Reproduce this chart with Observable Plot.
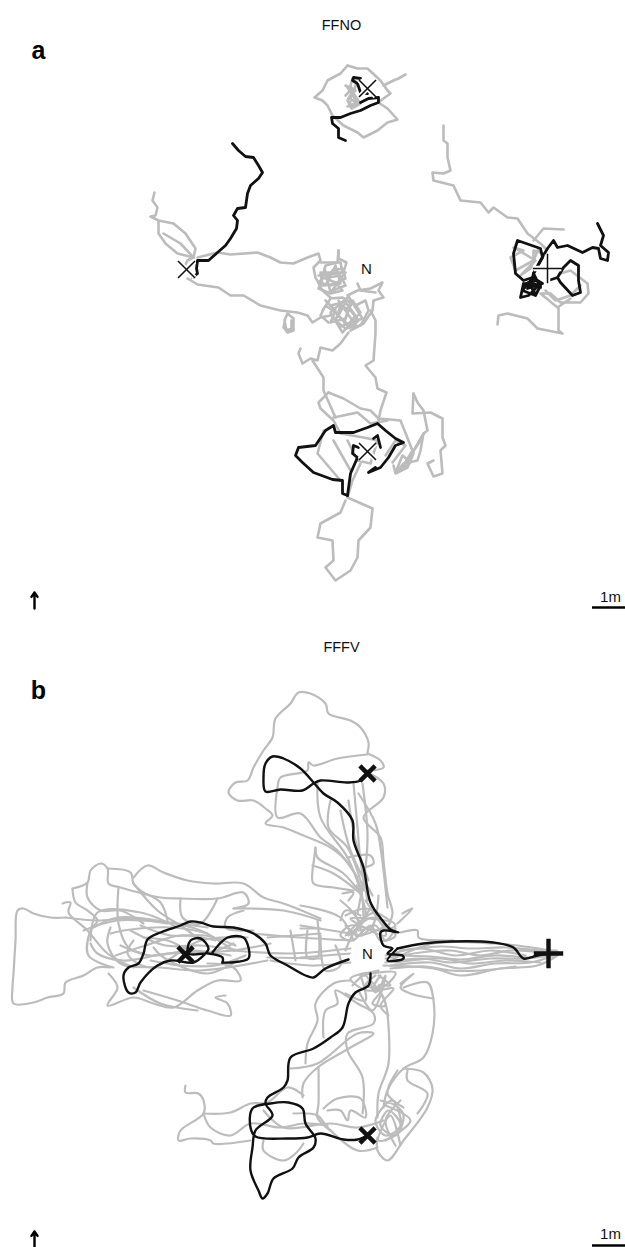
<!DOCTYPE html>
<html>
<head>
<meta charset="utf-8">
<script src="https://cdn.jsdelivr.net/npm/d3@7"></script>
<script src="https://cdn.jsdelivr.net/npm/@observablehq/plot@0.6"></script>
<style>html,body{margin:0;padding:0;background:#fff}svg{display:block}</style>
</head>
<body>
<div id="chart"></div>
<script>
// Tracks, in figure units (x across, y down)
const greyTracksA = [
  [[347,65],[340,73],[327,80],[322,90],[314,97],[322,100],[327,105],[332,115],[343,125],[357,132],[363,137],[377,130],[387,122],[397,119],[387,108],[378,102]],
  [[347,65],[357,68],[367,68],[380,80],[387,90],[390,93],[383,98],[378,102]],
  [[383,85],[393,80],[398,78],[405,74]],
  [[347,87],[351,93],[347,100],[351,108],[360,103],[353,93],[350,85],[352,78],[356,82],[352,95],[358,103],[347,106]],
  [[345,85],[355,90],[348,98],[357,102],[349,105],[352,88],[345,95]],
  [[154,192],[152,200],[157,207],[155,215],[150,216],[158,220],[173,223],[185,233],[195,248],[193,257],[187,260],[184,266]],
  [[158,220],[158,233],[165,243],[177,253],[193,257]],
  [[163,233],[180,243],[193,257]],
  [[197,257],[217,252],[230,254],[257,252],[270,257],[280,262],[293,263],[307,257],[318,253],[320,260],[313,267],[315,277],[322,290],[330,297]],
  [[187,278],[197,284],[218,287],[230,295],[243,295],[260,305],[280,310],[297,312],[307,315],[312,322],[320,317],[330,315]],
  [[285,317],[283,327],[287,332],[293,330],[293,318],[287,313],[284,320],[286,330],[291,328],[291,320]],
  [[338,250],[337,262],[325,265],[322,278],[318,282],[330,285],[345,278],[342,268],[332,270],[325,278],[335,282],[342,290],[330,293],[318,288],[322,278],[340,275],[345,285],[332,290]],
  [[320,262],[340,262],[342,272],[320,272],[322,285],[340,283],[335,265],[325,285]],
  [[318,275],[345,272],[330,292],[324,268]],
  [[338,250],[338,258],[346,262],[343,272]],
  [[322,310],[330,298],[342,297],[355,305],[365,300],[368,310],[360,325],[345,328],[335,320],[340,305],[350,310],[358,320],[350,327],[338,315],[345,302],[355,315],[347,325],[335,312],[325,305],[320,315],[328,322]],
  [[325,300],[335,310],[330,322],[345,318],[352,300],[360,312],[342,332],[330,312],[348,296],[362,318],[340,326]],
  [[330,305],[350,300],[344,322],[356,326],[338,300]],
  [[347,295],[357,290],[370,288],[382,282],[378,290],[383,297],[373,300],[372,310],[363,323],[350,330]],
  [[357,283],[360,290],[375,292]],
  [[370,310],[375,320],[375,333],[373,360],[365,365],[375,377],[377,388],[386,392],[380,410],[378,420]],
  [[348,332],[340,343],[332,350],[320,347],[317,360],[310,358],[302,363],[298,353],[300,348]],
  [[312,360],[323,377],[323,390],[335,417]],
  [[328,392],[343,398],[360,408],[370,410],[378,418],[400,420],[408,440],[413,453],[407,467],[395,473],[393,465]],
  [[328,392],[318,402],[320,408],[333,420],[340,433]],
  [[333,417],[357,412],[370,423],[387,420]],
  [[323,430],[317,453],[340,480]],
  [[333,440],[350,470]],
  [[395,472],[402,455],[410,462],[400,470],[412,450],[405,462],[420,440]],
  [[385,455],[395,440],[405,445],[392,462]],
  [[413,393],[412,413],[430,412],[442,418],[442,437],[445,445],[440,450],[442,473],[433,476],[427,463],[433,460]],
  [[413,393],[417,402],[423,410],[427,430],[423,433],[420,450],[417,460],[403,463],[397,470]],
  [[408,460],[415,447],[423,433]],
  [[347,497],[372,508],[370,527],[358,540],[357,557],[350,570],[335,580],[325,567],[333,560],[332,540],[317,537],[320,523],[340,512],[345,500]],
  [[347,497],[352,480],[360,463]],
  [[340,433],[363,437],[377,440],[370,463],[357,460],[347,440]],
  [[443,125],[443,140],[447,143],[447,157],[450,170],[443,173],[432,172],[433,180],[453,185],[460,200],[480,202],[488,212],[493,207],[507,217],[517,218],[527,233],[540,243],[545,248]],
  [[533,240],[543,228],[563,229]],
  [[513,247],[523,250],[510,257],[515,270],[533,260],[533,250],[543,253]],
  [[515,248],[535,260],[520,275],[530,268],[538,248]],
  [[560,273],[570,270],[587,283],[588,293],[580,302],[560,302],[550,293],[540,293],[557,307],[570,298]],
  [[545,290],[555,300],[570,295],[580,285]],
  [[558,307],[558,330],[562,333],[537,328],[527,318],[507,313],[498,315],[497,324]]
];
const blackTracksA = [
  [[345,140],[338,137],[338,128],[332,123],[331,117],[340,117],[350,113],[360,110],[370,105],[378,102],[378,97],[368,98],[360,102]],
  [[367,93],[360,92],[357,83],[352,80],[353,77],[360,78]],
  [[232,143],[238,150],[245,156],[253,157],[258,165],[262,172],[258,178],[250,185],[247,193],[245,207],[237,208],[233,215],[237,220],[236,228],[230,238],[225,245],[217,252],[208,260],[202,260],[197,260],[196,268],[197,273],[192,277]],
  [[347,495],[342,493],[342,480],[332,479],[313,472],[302,462],[295,455],[298,447],[315,445],[325,430],[333,425],[335,432],[353,432],[367,427],[377,423],[385,430],[395,438],[403,442],[395,445],[388,457],[380,467],[368,472],[375,467]],
  [[347,495],[350,473],[357,457],[352,453],[353,445],[358,447]],
  [[380,447],[377,435],[373,438]],
  [[597,223],[603,235],[600,245],[608,252],[607,260],[600,258],[598,248],[592,247],[582,252],[567,245],[557,247],[553,240],[547,248],[540,260],[533,273],[530,285]],
  [[517,240],[540,248],[542,257],[533,273],[540,287],[523,283],[520,297],[528,295],[540,283],[532,277],[523,280],[515,273],[513,253],[517,240]],
  [[548,280],[557,277],[563,267],[570,260],[578,265],[578,280],[580,292],[572,295],[560,282],[557,277]],
  [[525,283],[537,280],[542,283],[527,288],[532,278]],
  [[530,280],[522,290],[535,295],[540,285],[528,282],[534,292]]
];
const greyTracksB = [
  [[367,752],[368,742],[360,727],[350,720],[328,713],[325,703],[310,693],[298,692],[290,703],[275,718],[272,737],[263,750],[253,767],[247,780],[235,782],[228,792],[237,800],[253,800],[265,808],[272,815],[265,823],[283,827],[303,835],[330,847],[348,863],[360,887],[363,917]],
  [[367,753],[380,760],[383,767],[363,770]],
  [[363,770],[383,783],[383,797],[363,817],[380,837],[383,860],[387,893],[392,913],[387,927]],
  [[367,754],[337,758],[313,765],[308,762],[307,770],[280,777],[277,787],[277,817],[300,813],[320,837],[337,850],[357,877]],
  [[317,783],[320,817],[347,857],[360,890]],
  [[330,800],[328,827],[347,847],[363,890]],
  [[353,783],[357,827],[360,860],[367,900]],
  [[362,783],[367,833],[365,867],[357,913]],
  [[358,793],[375,823],[380,847],[387,907]],
  [[348,800],[355,840],[368,880]],
  [[340,810],[350,850],[372,895]],
  [[315,847],[313,863],[312,870],[313,883],[333,887],[353,890]],
  [[312,865],[333,873],[360,893]],
  [[315,847],[317,857],[343,873],[360,893]],
  [[347,857],[370,855],[373,863],[363,867]],
  [[342,893],[353,892],[348,900]],
  [[345,915],[365,908],[385,917],[395,925],[378,930],[350,925],[340,935],[352,940],[370,925],[380,940],[395,935],[372,917],[355,930],[345,950]],
  [[350,910],[360,925],[345,935],[375,912],[385,935],[350,918],[390,922],[355,935],[372,905]],
  [[356,885],[365,915],[348,935]],
  [[378,895],[372,925],[358,930]],
  [[365,900],[385,930]],
  [[340,900],[355,915],[362,935]],
  [[345,925],[360,935],[375,925],[385,940],[395,928]],
  [[402,913],[412,908],[397,923]],
  [[400,932],[417,930],[418,937],[453,940]],
  [[300,905],[340,917],[353,940]],
  [[300,925],[350,933]],
  [[300,957],[350,953]],
  [[253,933],[300,937],[350,940]],
  [[233,950],[290,953],[350,948]],
  [[270,960],[310,965],[350,962]],
  [[290,930],[295,960]],
  [[320,935],[325,970],[340,965],[335,945]],
  [[360,915],[345,910],[340,920]],
  [[390,960],[433,943],[493,943],[517,945],[557,951]],
  [[383,965],[433,968],[460,975],[500,968],[537,965],[557,955]],
  [[385,958],[420,952],[450,950],[480,955],[510,950],[550,953]],
  [[385,962],[420,958],[450,962],[490,958],[525,958],[555,953]],
  [[385,955],[420,948],[455,955],[490,950],[525,955]],
  [[390,965],[430,962],[460,968],[495,963],[530,962],[553,955]],
  [[400,950],[440,946],[470,948],[505,947],[540,950],[556,950]],
  [[390,968],[425,966],[450,970],[480,970],[515,966]],
  [[395,955],[430,956],[460,959],[495,955],[535,957],[557,953]],
  [[395,962],[440,958],[470,963],[505,960],[540,962]],
  [[400,983],[413,973],[400,987],[410,993],[433,998]],
  [[65,917],[50,917],[33,913],[23,908],[17,910],[15,940],[13,973],[12,987],[13,1003],[33,1002],[47,997],[63,993],[65,982],[83,975],[97,967],[110,967]],
  [[65,917],[97,920],[127,918],[167,923]],
  [[133,877],[147,865],[163,872],[187,880],[213,883],[243,883],[263,897],[283,903],[320,918]],
  [[72,888],[87,882],[90,870],[100,863],[107,868],[108,883],[120,887],[160,897],[180,898],[217,898],[243,892],[248,903],[233,908]],
  [[107,868],[130,872],[133,883],[140,890],[160,902],[167,920]],
  [[72,888],[75,902],[87,910],[97,920],[90,930],[88,955],[113,967]],
  [[87,882],[87,897],[100,910],[120,910],[143,923]],
  [[62,903],[70,902],[68,912],[87,930],[107,953],[133,967]],
  [[118,887],[118,923],[128,947],[143,953]],
  [[133,883],[157,910],[183,927],[200,940]],
  [[180,898],[182,917],[200,923],[217,898]],
  [[243,910],[227,917],[225,927],[253,930]],
  [[233,908],[283,910],[320,920]],
  [[83,930],[117,920],[167,922],[207,927]],
  [[90,940],[97,912],[140,912],[177,927]],
  [[93,927],[117,917],[157,920],[200,930],[233,950]],
  [[110,933],[123,930],[173,927],[207,933]],
  [[110,927],[107,943],[120,963],[160,967],[200,970],[267,960]],
  [[90,943],[97,953],[123,960],[167,953],[233,950],[270,943]],
  [[133,940],[127,953],[150,967],[200,940],[247,937]],
  [[153,947],[163,957],[207,973],[237,960]],
  [[143,937],[167,940],[200,953],[233,943]],
  [[130,930],[165,945],[200,945],[240,950]],
  [[120,945],[150,955],[190,950],[230,955]],
  [[115,955],[145,945],[180,935],[215,940]],
  [[140,925],[170,935],[205,935],[235,945]],
  [[150,960],[180,965],[215,965],[245,955]],
  [[267,937],[320,933]],
  [[300,928],[320,928]],
  [[267,957],[320,958]],
  [[307,930],[307,957],[317,957],[317,920]],
  [[108,973],[117,987],[107,1005],[133,997],[153,1003],[173,1007],[197,990],[217,980],[240,980],[233,967],[207,963]],
  [[143,990],[177,1000],[207,1010],[230,1015],[227,1003],[215,997],[225,995]],
  [[133,987],[160,1003],[197,1010]],
  [[185,1085],[185,1092],[198,1093],[203,1100],[203,1113],[180,1130],[178,1140],[190,1138],[210,1140],[213,1143],[250,1140]],
  [[203,1113],[230,1112],[250,1103],[267,1102],[287,1087],[303,1095]],
  [[203,1113],[210,1127],[230,1135],[250,1123],[280,1127],[303,1123],[327,1125]],
  [[263,1140],[263,1150],[283,1160],[295,1153],[303,1143]],
  [[290,1068],[317,1063],[357,1033],[373,1033],[350,1047],[317,1067],[303,1083],[302,1097]],
  [[305,1063],[307,1043],[317,1020],[315,1003],[333,983],[350,980]],
  [[323,1037],[325,1010],[337,1003],[335,990],[357,1003],[373,1013],[373,1023],[347,1033],[347,1050],[362,1077],[362,1113]],
  [[318,1067],[318,1103],[317,1117],[330,1130]],
  [[387,1013],[388,1063],[378,1093],[377,1117]],
  [[403,987],[427,982],[433,1000],[432,1033],[423,1057],[403,1068],[387,1090],[383,1107]],
  [[403,1068],[423,1072],[432,1088],[427,1107],[403,1140],[387,1160],[377,1150],[377,1137]],
  [[397,1070],[387,1093],[403,1107]],
  [[407,1070],[407,1080],[427,1093],[417,1113]],
  [[380,1100],[395,1105],[403,1115],[395,1135],[380,1125],[388,1110],[400,1125],[385,1135],[375,1120],[392,1100],[400,1130],[378,1140],[390,1115],[400,1145]],
  [[400,1100],[385,1120],[395,1145]],
  [[385,1105],[410,1120],[385,1140]],
  [[323,1108],[337,1098],[360,1098],[365,1117],[350,1110],[347,1120],[340,1110],[327,1110]],
  [[293,1113],[317,1115],[327,1127],[357,1150],[377,1147]],
  [[263,1110],[283,1127],[330,1123],[357,1127],[383,1120]],
  [[370,980],[383,997],[387,1013]],
  [[375,975],[365,985],[380,990],[372,1003],[385,1005],[378,985],[390,985],[378,975]],
  [[360,975],[395,972],[385,985],[367,990],[350,978],[378,970]],
  [[352,985],[365,975],[375,992],[385,975],[372,1010],[358,990]],
  [[380,975],[372,990],[393,988],[380,1005],[388,1015]],
  [[345,993],[365,1000],[360,975]]
];
const blackTracksB = [
  [[348,959],[325,968],[313,977],[305,975],[287,965],[270,955],[265,943],[253,933],[233,927],[213,926],[200,922],[190,921],[180,925],[160,932],[147,939],[143,953],[138,963],[128,967],[123,975],[128,992],[135,992],[140,982],[157,965],[170,960],[193,962],[203,955],[208,948],[200,938],[190,940],[188,953],[208,953],[222,957],[222,962]],
  [[212,952],[227,937],[243,937],[248,947],[248,958],[230,962],[222,962]],
  [[366,773],[360,780],[347,782],[320,780],[313,783],[302,790],[280,789],[265,791],[263,777],[265,763],[272,756],[283,758],[300,768],[313,782],[323,793],[337,802],[352,820],[353,840],[363,867],[370,902],[382,920],[390,929],[398,932],[383,930],[380,932],[383,945],[392,948],[387,953],[402,955],[403,958],[387,960],[397,948]],
  [[397,948],[423,943],[450,941],[493,942],[513,947],[523,958],[537,955],[548,953]],
  [[370,973],[368,985],[355,992],[348,1003],[342,1027],[330,1037],[313,1048],[290,1057],[287,1080],[283,1087],[267,1097],[265,1103],[272,1115],[255,1130],[252,1147],[250,1170],[258,1190],[262,1198],[267,1193],[273,1178],[292,1168],[298,1157],[313,1147],[315,1138],[305,1123],[302,1108],[288,1102],[270,1103],[252,1108],[250,1127],[255,1136],[287,1138],[307,1137],[320,1133],[343,1139],[357,1139],[367,1135]]
];
const goalsA = [{x:367,y:88,s:"times"},{x:186,y:269,s:"times"},{x:367,y:451,s:"times"},{x:547,y:268,s:"plus"}];
const goalsB = [{x:367,y:773,s:"times"},{x:185,y:954,s:"times"},{x:367,y:1135,s:"times"},{x:548,y:953,s:"plus"}];
const titles = [{x:341,y:25,t:"FFNO"},{x:341,y:647,t:"FFFV"}];
const panelLabels = [{x:38,y:50,t:"a"},{x:38,y:690,t:"b"}];
const nestLabels = [{x:366,y:269,t:"N"},{x:367,y:954,t:"N"}];
const northArrows = [{x:34,y1:608,y2:592},{x:34,y1:1247,y2:1231}];
const scaleBars = [{y:607,ty:597},{y:1245,ty:1234}];
const scaleStart = 592, scaleEnd = 625;

const flat = (tracks) => tracks.flatMap((pts, i) => pts.map(([x, y]) => ({x, y, i})));
const times = (g) => g.filter(d => d.s === "times");
const plus = (g) => g.filter(d => d.s === "plus");

const font = "Liberation Sans, Arial, sans-serif";
const chart = Plot.plot({
  width: 625, height: 1247,
  margin: 0,
  x: {domain: [0, 625], range: [0, 625], axis: null},
  y: {domain: [0, 1247], range: [0, 1247], axis: null},
  style: {background: "#fff", fontFamily: font},
  marks: [
    Plot.line(flat(greyTracksA), {x: "x", y: "y", z: "i", stroke: "#bcbcbc", strokeWidth: 2.6, strokeLinejoin: "round"}),
    Plot.line(flat(greyTracksB), {x: "x", y: "y", z: "i", stroke: "#bcbcbc", strokeWidth: 2.2, strokeLinejoin: "round", curve: "catmull-rom"}),
    Plot.dot([{x: 367, y: 954}], {x: "x", y: "y", r: 17, fill: "#fff", stroke: "none"}),
    Plot.line(flat(blackTracksA), {x: "x", y: "y", z: "i", stroke: "#111", strokeWidth: 2.8, strokeLinejoin: "round"}),
    Plot.line(flat(blackTracksB), {x: "x", y: "y", z: "i", stroke: "#111", strokeWidth: 2.4, strokeLinejoin: "round", curve: "catmull-rom"}),
    // goal markers
    Plot.dot(times(goalsA), {x: "x", y: "y", symbol: "times", r: 7.3, stroke: "#fff", strokeWidth: 5, fill: "none"}),
    Plot.dot(plus(goalsA), {x: "x", y: "y", symbol: "plus", r: 9, stroke: "#fff", strokeWidth: 5.5, fill: "none"}),
    Plot.dot(times(goalsA), {x: "x", y: "y", symbol: "times", r: 7.8, stroke: "#111", strokeWidth: 1.5, fill: "none"}),
    Plot.dot(plus(goalsA), {x: "x", y: "y", symbol: "plus", r: 9.5, stroke: "#111", strokeWidth: 1.5, fill: "none"}),
    Plot.dot(times(goalsB), {x: "x", y: "y", symbol: "times", r: 7, stroke: "#111", strokeWidth: 4.4, fill: "none"}),
    Plot.dot(plus(goalsB), {x: "x", y: "y", symbol: "plus", r: 9.5, stroke: "#111", strokeWidth: 4.4, fill: "none"}),
    // texts
    Plot.text(titles, {x: "x", y: "y", text: "t", fontSize: 14.5, fill: "#111"}),
    Plot.text(panelLabels, {x: "x", y: "y", text: "t", fontSize: 25, fontWeight: "bold", fill: "#000"}),
    Plot.text(nestLabels, {x: "x", y: "y", text: "t", fontSize: 15, fill: "#111"}),
    // north arrows
    Plot.arrow(northArrows, {x: "x", y1: "y1", y2: "y2", stroke: "#000", strokeWidth: 2.4, headLength: 6, headAngle: 70, bend: 0, inset: 0}),
    // scale bars
    Plot.ruleY(scaleBars, {y: "y", x1: scaleStart, x2: scaleEnd, stroke: "#000", strokeWidth: 2.5}),
    Plot.text(scaleBars, {x: 610, y: "ty", text: () => "1m", fontSize: 15, fill: "#111"})
  ]
});
document.getElementById("chart").append(chart);
</script>
</body>
</html>
